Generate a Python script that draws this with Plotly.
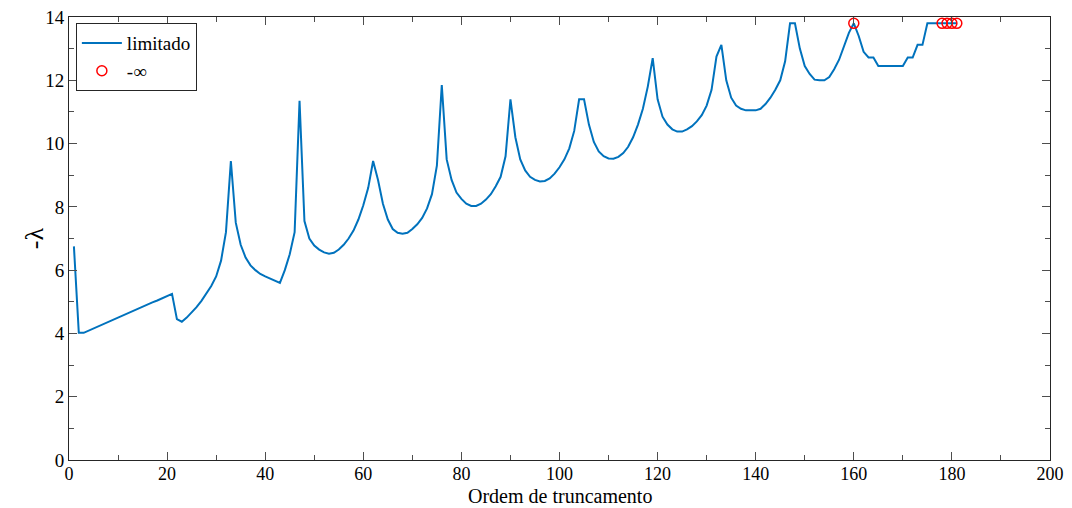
import plotly.graph_objects as go

ordem = list(range(1, 182))
limitado = [
    6.75, 4.02, 4.02, 4.09, 4.16, 4.23, 4.30, 4.36, 4.43, 4.50,   # 1-10
    4.57, 4.64, 4.70, 4.77, 4.84, 4.91, 4.98, 5.04, 5.11, 5.18,   # 11-20
    5.25, 4.45, 4.37, 4.50, 4.65, 4.83, 5.03, 5.25, 5.50, 5.80,   # 21-30
    6.30, 7.20, 9.45, 7.50, 6.80, 6.40, 6.15, 6.00, 5.88, 5.80,   # 31-40
    5.73, 5.67, 5.60, 6.00, 6.50, 7.20, 11.35, 7.55, 7.00, 6.78,  # 41-50
    6.65, 6.56, 6.52, 6.55, 6.65, 6.80, 7.00, 7.25, 7.60, 8.05,   # 51-60
    8.60, 9.45, 8.85, 8.10, 7.60, 7.30, 7.18, 7.15, 7.18, 7.30,   # 61-70
    7.45, 7.65, 7.95, 8.40, 9.30, 11.85, 9.50, 8.85, 8.45, 8.25,  # 71-80
    8.10, 8.03, 8.03, 8.10, 8.23, 8.40, 8.65, 8.95, 9.60, 11.40,  # 81-90
    10.20, 9.50, 9.15, 8.95, 8.85, 8.80, 8.82, 8.90, 9.05, 9.25,  # 91-100
    9.50, 9.85, 10.40, 11.40, 11.40, 10.60, 10.05, 9.75, 9.60, 9.53,  # 101-110
    9.52, 9.58, 9.70, 9.90, 10.20, 10.60, 11.10, 11.80, 12.70, 11.40,  # 111-120
    10.85, 10.60, 10.45, 10.38, 10.38, 10.45, 10.55, 10.70, 10.90, 11.20,  # 121-130
    11.70, 12.75, 13.12, 12.00, 11.45, 11.20, 11.10, 11.05, 11.05, 11.05,  # 131-140
    11.10, 11.25, 11.45, 11.70, 12.00, 12.60, 13.80, 13.80, 13.00, 12.45,  # 141-150
    12.20, 12.02, 12.00, 12.00, 12.10, 12.35, 12.65, 13.05, 13.50, 13.80,  # 151-160
    13.40, 12.90, 12.72, 12.72, 12.45, 12.45, 12.45, 12.45, 12.45, 12.45,  # 161-170
    12.72, 12.72, 13.12, 13.12, 13.80, 13.80, 13.80, 13.80, 13.80, 13.80,  # 171-180
    13.80,  # 181
]
inf_x = [160, 178, 179, 180, 181]
inf_y = [13.8, 13.8, 13.8, 13.8, 13.8]

x_title = "Ordem de truncamento"
y_title = "-λ"

FONT = "Liberation Serif, Times New Roman, DejaVu Serif, serif"

fig = go.Figure()
fig.add_trace(go.Scatter(
    x=ordem, y=limitado, mode="lines", name="limitado",
    line=dict(color="#0072BD", width=2),
))
fig.add_trace(go.Scatter(
    x=inf_x, y=inf_y, mode="markers", name="-∞",
    marker=dict(symbol="circle-open", color="#FF0000", size=10, line=dict(width=1.5)),
))

axis_common = dict(
    showline=True, linecolor="#262626", linewidth=1, mirror="ticks",
    ticks="inside", ticklen=8, tickcolor="#4d4d4d", tickwidth=1,
    showgrid=False, zeroline=False, automargin=False,
    ticklabeloverflow="allow",
)

fig.update_xaxes(
    range=[0, 200], tick0=0, dtick=20,
    minor=dict(ticks="inside", ticklen=5, tickcolor="#4d4d4d", dtick=10, showgrid=False),
    tickfont=dict(family=FONT, size=18, color="#000000"),
    ticklabelstandoff=-3,
    **axis_common,
)
fig.update_yaxes(
    range=[0, 14], tick0=0, dtick=2,
    minor=dict(ticks="inside", ticklen=5, tickcolor="#4d4d4d", dtick=1, showgrid=False),
    tickfont=dict(family=FONT, size=19, color="#000000"),
    **axis_common,
)

fig.add_annotation(
    text=x_title, xref="paper", yref="paper", x=0.5, y=-0.081,
    xanchor="center", yanchor="middle", showarrow=False,
    font=dict(family=FONT, size=20, color="#000000"),
)
fig.add_annotation(
    text=y_title, xref="paper", yref="paper", x=-0.035, y=0.5,
    xanchor="center", yanchor="middle", showarrow=False, textangle=-90,
    font=dict(family=FONT, size=26, color="#000000"),
)

# page body has an 8px margin, so the figure is sized to end at the window edge
fig.update_layout(
    width=1064, height=500,
    margin=dict(l=61, r=22, t=9, b=48),
    paper_bgcolor="white", plot_bgcolor="white",
    font=dict(family=FONT, size=19, color="#000000"),
    showlegend=True,
    legend=dict(
        x=0.007, y=0.986, xanchor="left", yanchor="top",
        bgcolor="white", bordercolor="#262626", borderwidth=1,
        font=dict(family=FONT, size=19, color="#000000"),
        tracegroupgap=0, itemwidth=40,
    ),
)

fig.write_html("out.html")
